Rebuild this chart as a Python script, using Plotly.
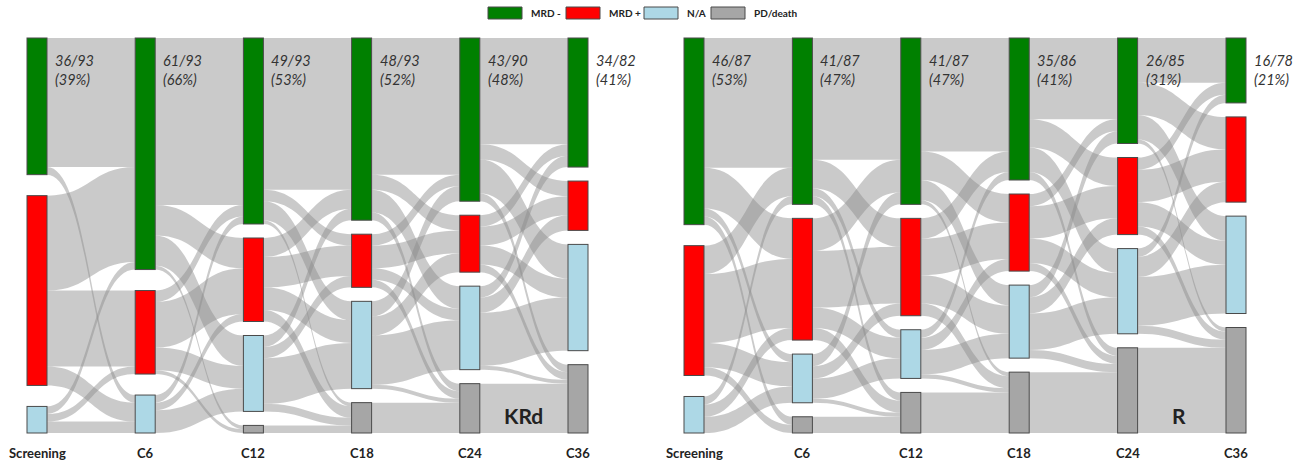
import plotly.graph_objects as go

# ---------------- data ----------------
columns = ["Screening", "C6", "C12", "C18", "C24", "C36"]
states = ["MRD -", "MRD +", "N/A", "PD/death"]

# transition matrices (rows = from state, cols = to state), order: MRD-, MRD+, N/A, PD/death
krd_scr_c6 = [[34, 0, 2, 0], [25, 20, 5, 0], [2, 2, 3, 0], [0, 0, 0, 0]]
krd_c6_c12 = [[44, 8, 8, 1], [3, 12, 6, 1], [2, 2, 6, 0], [0, 0, 0, 0]]
krd_c12_c18 = [[40, 3, 5, 1], [5, 8, 6, 3], [3, 3, 12, 2], [0, 0, 0, 2]]
krd_c18_c24 = [[36, 4, 6, 2], [3, 6, 3, 2], [4, 5, 13, 1], [0, 0, 0, 8]]
krd_c24_c36 = [[28, 4, 9, 2], [3, 5, 5, 2], [3, 4, 14, 1], [0, 0, 0, 13]]

r_scr_c6 = [[32, 10, 2, 2], [7, 17, 6, 2], [2, 3, 4, 0], [0, 0, 0, 0]]
r_c6_c12 = [[30, 7, 2, 2], [8, 14, 5, 3], [3, 3, 5, 1], [0, 0, 0, 4]]
r_c12_c18 = [[28, 7, 5, 1], [5, 9, 7, 3], [2, 3, 6, 1], [0, 0, 0, 10]]
r_c18_c24 = [[20, 7, 6, 2], [3, 8, 6, 2], [3, 4, 9, 2], [0, 0, 0, 15]]
r_c24_c36 = [[11, 8, 6, 1], [3, 8, 6, 2], [2, 5, 12, 2], [0, 0, 0, 21]]

krd_mrdneg_frac = ["36/93", "61/93", "49/93", "48/93", "43/90", "34/82"]
krd_mrdneg_pct = ["39%", "66%", "53%", "52%", "48%", "41%"]
r_mrdneg_frac = ["46/87", "41/87", "41/87", "35/86", "26/85", "16/78"]
r_mrdneg_pct = ["53%", "47%", "47%", "41%", "31%", "21%"]

panel_names = ["KRd", "R"]

# ---------------- styling / layout ----------------
W, HF = 1297, 466
state_colors = ["#008000", "#ff0000", "#add8e6", "#a6a6a6"]
link_color = "rgba(140,140,140,0.46)"
TOP, BOT = 38, 433
THICK = 20
PAD = 14
panel_px = [(27, 588), (684, 1246)]
panel_flows = [
    [krd_scr_c6, krd_c6_c12, krd_c12_c18, krd_c18_c24, krd_c24_c36],
    [r_scr_c6, r_c6_c12, r_c12_c18, r_c18_c24, r_c24_c36],
]
panel_text = [(krd_mrdneg_frac, krd_mrdneg_pct), (r_mrdneg_frac, r_mrdneg_pct)]
panel_tag_x = [523, 1179]

fig = go.Figure()
annotations = []
shapes = []

for p, flows in enumerate(panel_flows):
    left, right = panel_px[p]
    ncol = len(columns)
    counts = [[sum(row) for row in flows[0]]]
    for m in flows:
        counts.append([sum(m[i][j] for i in range(4)) for j in range(4)])
    H = BOT - TOP
    ky = min((H - (sum(1 for v in c if v > 0) - 1) * PAD) / sum(c) for c in counts)
    node_idx = {}
    nx, ny, ncolor = [], [], []
    centers_px = []
    for c in range(ncol):
        cx = left + THICK / 2 + c * (right - left - THICK) / (ncol - 1)
        centers_px.append(cx)
        present = [s for s in range(4) if counts[c][s] > 0]
        tot = sum(counts[c][s] for s in present)
        gap = (H - tot * ky) / (len(present) - 1) if len(present) > 1 else 0
        y = 0.0
        for s in present:
            h = counts[c][s] * ky
            node_idx[(c, s)] = len(nx)
            nx.append((cx - left) / (right - left))
            ny.append((y + h / 2) / H)
            ncolor.append(state_colors[s])
            y += h + gap
    src, tgt, val = [], [], []
    for c, m in enumerate(flows):
        for i in range(4):
            for j in range(4):
                if m[i][j] > 0:
                    src.append(node_idx[(c, i)])
                    tgt.append(node_idx[(c + 1, j)])
                    val.append(m[i][j])
    fig.add_trace(go.Sankey(
        arrangement="fixed",
        domain=dict(x=[left / W, right / W], y=[1 - BOT / HF, 1 - TOP / HF]),
        node=dict(label=[""] * len(nx), x=nx, y=ny, color=ncolor,
                  pad=PAD, thickness=THICK,
                  line=dict(color="#4a4a4a", width=1), hoverinfo="none"),
        link=dict(source=src, target=tgt, value=val, color=link_color,
                  hoverinfo="none"),
    ))
    fr, pc = panel_text[p]
    for c in range(ncol):
        cx = centers_px[c]
        annotations.append(dict(
            x=cx / W, y=1 - 453 / HF, xref="paper", yref="paper",
            text=f"<b>{columns[c]}</b>", showarrow=False,
            font=dict(family="Lato", size=13, color="#222"),
            xanchor="center", yanchor="middle"))
        annotations.append(dict(
            x=(cx + THICK / 2 + 6) / W, y=1 - 50 / HF, xref="paper", yref="paper",
            text=f"<i>{fr[c]}<br>({pc[c]})</i>", showarrow=False, align="left",
            font=dict(family="Lato", size=14.5, color="#333"),
            xanchor="left", yanchor="top"))
    annotations.append(dict(
        x=panel_tag_x[p] / W, y=1 - 415 / HF, xref="paper", yref="paper",
        text=f"<b>{panel_names[p]}</b>", showarrow=False,
        font=dict(family="Lato", size=21, color="#222"),
        xanchor="center", yanchor="middle"))

# legend
leg_x = [488, 566, 644, 711]
leg_tx = [529, 607, 685, 752]
for k, s in enumerate(states):
    shapes.append(dict(type="rect", xref="paper", yref="paper",
                       x0=leg_x[k] / W, x1=(leg_x[k] + 34) / W,
                       y0=1 - 19 / HF, y1=1 - 7 / HF,
                       fillcolor=state_colors[k], line=dict(color="#4a4a4a", width=1)))
    annotations.append(dict(x=leg_tx[k] / W, y=1 - 13 / HF, xref="paper", yref="paper",
                            text=f"<b>{s}</b>", showarrow=False,
                            font=dict(family="Lato", size=10, color="#222"),
                            xanchor="left", yanchor="middle"))

fig.update_layout(width=W, height=HF, margin=dict(l=0, r=0, t=0, b=0),
                  paper_bgcolor="white", plot_bgcolor="white",
                  annotations=annotations, shapes=shapes, showlegend=False)
fig.write_html("out.html", config={"displayModeBar": False},
               post_script="document.body.style.margin='0';document.body.style.overflow='hidden';")
